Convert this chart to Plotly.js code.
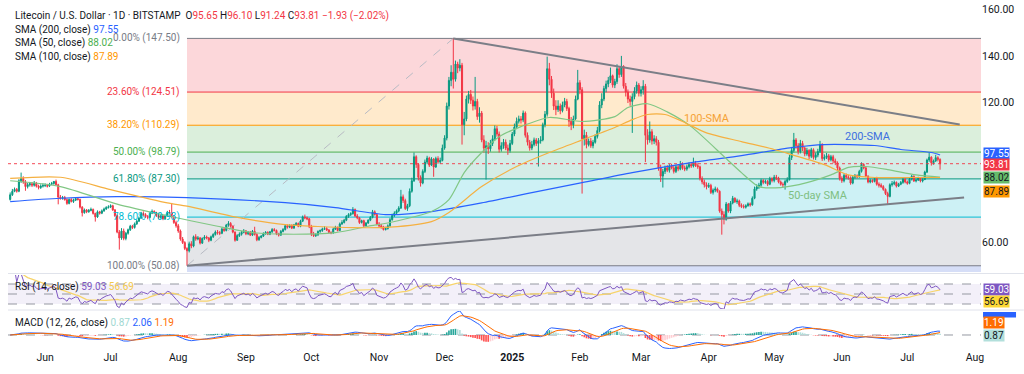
<!DOCTYPE html>
<html><head><meta charset="utf-8">
<script src="https://cdn.plot.ly/plotly-3.0.1.min.js"></script>
<style>html,body{margin:0;padding:0;background:#fff;}#chart{width:1024px;height:374px;}</style>
</head><body><div id="chart"></div>
<script>
// ---------- DATA (daily LTC/USD) ----------
const startDate = [2024, 4, 16]; // 16 May 2024 (UTC, month 0-based)
const firstOpen = 78.5;

const close_2024_05 = [80.5,82.0,82.8,82.0,86.5,87.5,86.0,84.0,84.8,85.2,84.6,85.5,84.2,83.6,84.2,84.5];
const high_2024_05  = [81.5,83.0,83.6,83.4,87.2,90.0,88.4,86.8,85.6,86.0,86.0,86.4,86.0,84.8,85.0,85.4];
const low_2024_05   = [78.0,80.0,81.6,81.4,81.6,85.6,85.2,82.2,83.2,84.0,83.8,84.0,83.6,82.8,83.0,83.6];

const close_2024_06 = [84.5,84.2,85.0,85.3,86.2,84.8,79.5,79.0,79.3,78.4,76.8,78.5,77.6,78.2,78.8,78.5,75.2,72.8,74.0,73.2,73.8,74.2,72.5,71.0,73.2,72.6,73.6,74.4,75.0,75.3];
const high_2024_06  = [85.4,85.2,85.6,86.0,86.4,87.0,85.2,80.4,80.0,80.0,79.0,78.9,79.0,78.8,79.2,79.4,78.8,75.6,74.6,74.4,74.4,75.0,74.6,72.8,73.8,73.6,74.2,75.0,75.6,76.0];
const low_2024_06   = [83.8,83.6,83.8,84.6,84.8,84.4,76.4,78.4,78.4,78.0,76.2,76.4,77.2,77.0,77.8,78.0,74.6,71.2,72.4,72.6,72.8,73.4,72.0,69.0,70.6,72.0,72.2,73.2,74.0,74.6];

const close_2024_07 = [75.8,74.0,71.5,64.5,62.0,65.0,61.8,64.0,65.5,67.0,66.5,68.0,69.2,70.5,72.5,72.0,71.2,70.8,72.6,73.4,72.8,71.6,70.8,71.4,70.2,71.5,73.0,72.8,71.0,68.6,67.2];
const high_2024_07  = [76.4,76.2,74.4,72.0,65.4,66.2,66.0,64.6,66.0,67.6,67.6,68.6,69.8,71.2,73.2,73.4,72.6,71.8,73.2,74.2,73.8,73.2,72.2,72.0,71.8,72.0,73.6,74.0,77.0,71.6,69.4];
const low_2024_07   = [74.8,73.6,71.0,64.0,57.0,61.2,61.0,61.0,63.4,65.0,65.8,66.0,67.6,68.8,70.2,71.4,70.6,70.0,70.4,72.2,72.2,71.0,70.0,70.2,69.6,69.8,71.2,72.2,70.6,68.0,66.4];

const close_2024_08 = [65.0,61.5,60.0,57.5,56.5,59.5,58.5,62.5,61.5,62.0,59.8,61.8,62.4,62.0,61.0,62.5,63.5,64.5,64.2,64.0,65.8,65.2,67.5,68.2,67.0,64.5,61.0,63.0,63.6,64.4,65.0];
const high_2024_08  = [68.0,65.6,62.4,60.6,58.0,60.4,60.6,63.0,63.6,62.8,62.4,62.2,63.2,63.0,62.4,63.0,64.0,65.2,65.4,65.0,66.4,66.6,68.0,69.2,68.8,67.4,64.8,63.6,64.4,65.0,65.8];
const low_2024_08   = [64.2,60.8,59.4,56.8,50.08,55.8,57.6,58.0,60.8,61.0,59.2,59.4,61.2,61.4,60.2,60.6,62.0,63.0,63.4,63.2,63.6,64.6,64.8,66.8,66.4,64.0,60.4,60.8,62.4,63.0,64.0];

const close_2024_09 = [63.8,64.5,63.2,64.8,63.5,61.2,62.2,62.8,63.8,64.4,63.6,64.6,65.6,65.2,63.8,63.2,64.8,65.6,67.2,66.6,67.4,66.2,67.6,68.2,67.0,69.2,71.0,70.6,70.2,66.8];
const high_2024_09  = [65.4,64.9,65.0,65.4,66.8,64.0,62.8,63.2,64.4,64.9,64.8,65.0,66.2,66.2,65.6,64.2,65.4,66.2,67.8,67.8,67.8,67.8,68.0,68.8,68.6,69.8,71.6,72.0,71.2,70.6];
const low_2024_09   = [63.2,63.2,62.8,62.8,63.0,60.6,60.8,61.8,62.4,63.4,63.2,63.2,64.2,64.8,63.2,62.6,63.0,64.4,65.2,66.0,66.2,65.8,66.0,67.2,66.6,66.6,68.8,70.0,69.6,66.2];

const close_2024_10 = [63.6,63.0,63.4,64.8,65.2,65.8,66.0,65.4,64.4,64.2,65.8,66.6,65.2,68.0,68.6,69.6,71.2,72.0,72.4,74.2,71.4,70.6,68.6,69.4,67.2,68.4,69.6,70.8,73.2,72.0,68.0];
const high_2024_10  = [67.6,64.6,64.0,65.2,65.6,66.4,67.0,66.6,65.8,64.8,66.4,67.2,66.8,68.6,69.6,70.2,71.8,72.6,73.0,75.2,74.6,72.2,71.0,69.8,69.8,68.8,70.0,71.4,74.0,73.8,72.4];
const low_2024_10   = [62.8,62.4,62.4,62.8,64.2,64.6,65.4,65.0,64.0,63.6,63.8,65.4,64.8,65.0,67.6,68.2,69.2,70.6,71.4,72.0,71.0,70.0,68.0,68.2,66.6,67.0,68.0,69.2,70.4,71.6,67.4];

const close_2024_11 = [67.2,66.8,65.6,66.0,67.2,69.8,71.6,72.6,73.6,74.8,79.6,78.0,74.6,75.8,82.0,86.5,96.8,93.5,88.0,85.5,90.5,94.5,96.2,93.2,95.8,92.4,96.0,94.6,95.2,100.5];
const high_2024_11  = [68.8,68.0,67.2,66.8,67.8,70.6,72.4,73.4,74.2,75.6,82.6,80.6,78.8,76.6,83.2,87.8,98.6,97.4,94.0,88.8,91.4,95.6,97.2,96.8,96.6,96.2,96.8,97.0,96.4,102.0];
const low_2024_11   = [66.6,66.0,65.2,65.2,65.6,66.8,69.4,71.0,72.0,73.0,74.4,77.0,74.0,73.6,75.2,81.4,86.0,92.0,86.6,84.0,85.0,89.8,93.6,92.4,92.8,88.2,92.0,93.8,93.8,94.8];

const close_2024_12 = [104.8,118.5,129.5,133.0,130.0,136.5,134.8,136.0,110.5,113.0,121.5,123.5,121.0,118.5,120.5,114.0,115.5,104.0,100.5,101.5,100.2,102.5,104.5,108.8,106.5,100.0,101.5,103.0,100.5,99.5,102.5];
const high_2024_12  = [106.0,120.0,131.0,136.0,147.5,138.0,137.5,138.6,137.0,116.0,123.0,125.0,125.4,122.6,131.0,121.6,118.0,116.4,106.0,103.6,103.0,104.0,106.0,110.2,110.0,107.6,103.0,104.4,104.2,102.0,104.0];
const low_2024_12   = [99.8,103.8,117.0,127.0,126.0,129.0,132.6,133.4,102.0,106.0,112.0,119.6,119.4,116.6,117.0,112.6,111.4,103.0,98.6,87.0,98.0,99.0,101.4,103.6,105.4,98.6,99.0,100.2,99.6,97.6,98.6];

const close_2025_01 = [106.5,109.5,112.0,113.0,112.5,115.5,106.0,103.0,100.5,102.0,104.0,102.5,103.5,104.0,110.5,115.0,134.5,130.0,124.0,118.5,117.0,118.5,116.5,119.0,120.5,117.5,112.0,110.5,113.0,121.5,128.5];
const high_2025_01  = [107.4,111.0,113.6,114.4,114.2,116.6,116.2,107.2,104.0,103.6,105.0,104.8,104.8,105.6,111.4,116.4,139.7,137.0,131.4,126.0,121.0,121.0,119.6,120.4,122.0,121.6,118.2,113.8,114.4,123.0,134.0];
const low_2025_01   = [101.8,105.6,108.6,111.0,111.0,111.6,105.0,101.6,99.4,99.6,101.2,101.4,92.6,102.4,103.4,109.4,114.0,127.4,122.0,116.8,114.6,116.0,115.0,115.8,118.0,116.4,109.6,108.2,109.0,112.6,121.0];

const close_2025_02 = [125.5,104.5,106.0,102.0,103.5,101.5,103.0,105.5,108.0,119.0,121.5,126.0,128.0,129.5,131.5,127.5,129.0,134.5,132.0,135.5,127.0,124.5,121.5,120.5,122.5,125.0,127.5,124.0];
const high_2025_02  = [129.6,126.6,108.4,107.4,104.6,104.8,104.0,106.4,109.6,120.6,124.0,127.2,129.4,131.0,135.0,132.0,130.2,136.4,135.6,140.0,136.0,128.4,125.6,123.0,124.0,126.6,129.0,128.4];
const low_2025_02   = [123.6,81.0,101.6,100.4,101.2,100.6,100.4,102.4,104.6,107.2,117.6,120.6,124.4,126.6,128.4,126.4,126.2,128.0,130.6,131.0,126.0,122.6,119.8,118.6,107.0,121.4,123.8,122.6];

const close_2025_03 = [125.5,127.0,106.0,104.0,107.5,103.5,104.5,103.0,92.0,88.5,90.5,92.0,91.0,92.8,92.0,90.5,92.5,91.5,93.5,92.0,91.5,92.5,93.5,92.8,94.0,93.0,92.5,87.5,86.0,84.8,84.0];
const high_2025_03  = [127.0,129.6,128.0,108.6,111.9,108.6,106.0,105.6,104.0,93.4,91.6,93.0,93.2,93.6,93.8,93.0,93.4,93.6,95.0,94.4,93.0,93.4,94.4,94.4,96.4,95.0,94.0,93.0,88.4,87.0,85.8];
const low_2025_03   = [122.6,123.4,94.5,102.0,102.8,102.0,102.2,101.6,90.8,86.0,83.6,89.4,90.2,90.0,91.4,89.6,89.8,90.6,91.0,91.2,90.6,90.8,91.8,92.0,92.2,92.4,91.6,86.6,85.0,83.6,82.8];

const close_2025_04 = [84.5,81.5,82.5,83.0,82.0,73.5,72.0,70.0,76.5,73.5,77.0,79.0,77.5,77.8,76.0,75.5,75.2,75.8,76.6,76.2,79.0,83.0,83.8,84.6,86.6,85.8,86.2,85.0,87.4,86.6];
const high_2025_04  = [85.6,85.2,83.2,84.0,83.6,82.4,74.6,73.4,77.4,77.0,77.8,80.0,79.4,78.8,78.4,76.8,76.4,76.4,77.2,77.2,79.8,84.0,85.0,85.6,87.4,87.2,87.0,86.8,88.2,88.0];
const low_2025_04   = [83.4,80.8,80.6,81.6,81.4,72.8,63.4,67.8,69.4,72.8,72.6,76.4,77.0,76.6,75.2,74.8,74.6,74.6,75.4,75.4,75.8,78.6,82.2,83.0,84.0,85.0,85.2,84.2,84.6,85.8];

const close_2025_05 = [88.0,87.6,86.0,85.0,84.8,86.2,87.0,96.5,99.5,104.0,101.5,99.0,102.5,100.5,98.0,99.5,97.0,99.8,96.5,97.5,99.0,102.0,96.0,96.5,97.2,95.5,96.8,95.0,94.2,92.0,87.5];
const high_2025_05  = [89.0,89.0,88.2,86.6,85.8,87.0,88.0,97.6,101.0,107.0,104.8,102.6,104.0,103.6,101.2,100.6,100.0,100.6,100.4,98.6,100.2,103.6,102.6,97.8,98.4,98.0,97.6,97.6,96.0,94.8,92.6];
const low_2025_05   = [85.8,86.8,85.4,84.4,83.8,82.7,85.6,86.6,95.4,98.6,100.2,97.8,98.2,99.2,97.0,97.2,95.8,96.2,95.6,95.4,96.6,98.4,95.0,95.2,95.8,94.6,94.8,94.0,93.2,91.0,86.6];

const close_2025_06 = [86.5,88.8,88.0,87.8,85.5,88.0,88.6,88.2,90.5,93.5,92.0,88.5,86.0,86.6,86.2,87.4,85.0,84.6,84.0,82.8,81.0,79.8,84.8,85.2,85.8,84.2,85.0,85.8,87.2,86.0];
const high_2025_06  = [88.4,89.6,89.6,89.0,88.4,88.6,89.4,89.2,91.2,94.4,94.0,92.4,88.8,87.4,87.2,88.0,88.2,85.8,85.4,84.6,83.2,81.8,85.4,86.4,86.6,86.2,85.6,86.4,87.8,87.6];
const low_2025_06   = [85.6,85.8,87.4,87.0,84.8,85.0,87.4,87.6,87.8,90.0,91.4,88.0,85.4,85.4,85.6,85.8,84.4,83.6,83.4,82.2,80.4,76.6,79.4,84.0,84.6,83.6,83.8,84.6,85.2,85.4];

const close_2025_07 = [85.4,87.2,88.4,86.4,86.8,87.6,86.4,87.0,90.2,95.4,96.6,94.2,95.0,96.4,95.65,93.81];
const high_2025_07  = [86.6,87.8,89.0,88.8,87.4,88.2,88.0,87.6,90.8,96.0,98.6,97.0,95.6,97.6,97.0,96.10];
const low_2025_07   = [84.8,85.0,86.6,86.0,85.8,86.4,85.8,85.8,86.8,89.8,94.6,93.0,93.4,94.6,94.8,91.24];

// moving averages (date, value knots)
const sma200Dates = ['2024-05-16','2024-06-08','2024-07-04','2024-08-05','2024-09-19','2024-10-12','2024-11-04','2024-11-25','2024-12-18','2025-01-10','2025-02-02','2025-02-25','2025-03-24','2025-04-16','2025-05-09','2025-05-24','2025-06-16','2025-06-28','2025-07-12','2025-07-16'];
const sma200Vals  = [77.6,79.0,79.7,79.3,77.1,75.0,72.0,73.3,77.0,81.4,85.7,90.0,94.3,97.3,100.7,102.0,101.6,99.9,98.6,97.55];
const sma50Dates  = ['2024-05-16','2024-06-08','2024-07-04','2024-07-27','2024-08-19','2024-09-04','2024-09-19','2024-10-12','2024-10-27','2024-11-06','2024-11-25','2024-12-03','2024-12-10','2024-12-18','2024-12-26','2025-01-05','2025-01-18','2025-02-02','2025-02-17','2025-02-23','2025-03-04','2025-03-13','2025-03-24','2025-04-08','2025-04-16','2025-04-24','2025-05-04','2025-05-16','2025-05-27','2025-06-04','2025-06-12','2025-06-22','2025-07-05','2025-07-16'];
const sma50Vals   = [86.5,84.0,76.5,71.5,67.0,64.3,63.6,64.3,67.0,68.6,73.3,78.4,90.0,98.6,105.4,109.7,113.6,111.9,114.0,117.9,119.5,116.0,109.7,96.9,90.0,84.0,83.6,85.7,89.0,92.2,92.6,91.3,89.0,88.02];
const sma100Dates = ['2024-05-16','2024-06-08','2024-07-01','2024-07-27','2024-08-05','2024-08-27','2024-09-19','2024-10-04','2024-10-20','2024-11-06','2024-11-25','2024-12-03','2024-12-18','2025-01-03','2025-01-18','2025-02-02','2025-02-17','2025-02-25','2025-03-04','2025-03-12','2025-03-20','2025-03-31','2025-04-16','2025-05-01','2025-05-09','2025-05-24','2025-06-04','2025-06-16','2025-07-01','2025-07-16'];
const sma100Vals  = [87.5,88.0,82.7,77.0,75.6,71.0,67.7,66.9,66.4,66.6,69.0,72.9,84.0,92.6,98.6,104.0,109.3,112.7,114.9,114.9,111.9,107.0,103.3,99.9,97.7,93.4,89.0,87.9,87.9,87.89];

// Fibonacci retracement (low -> high)
const fibLow = 50.08, fibHigh = 147.50;
const fibLabels = ['0.00% (147.50)','23.60% (124.51)','38.20% (110.29)','50.00% (98.79)','61.80% (87.30)','78.60% (70.93)','100.00% (50.08)'];
const fibValues = [147.50,124.51,110.29,98.79,87.30,70.93,50.08];

// trend lines (date, price)
const upperTrend = {d:['2024-12-05','2025-07-25'], v:[147.5,110.6]};
const lowerTrend = {d:['2024-08-05','2025-07-27'], v:[50.08,79.3]};

const tickDates = ['2024-06-01','2024-07-01','2024-08-01','2024-09-01','2024-10-01','2024-11-01','2024-12-01','2025-01-01','2025-02-01','2025-03-01','2025-04-01','2025-05-01','2025-06-01','2025-07-01','2025-08-01'];
const tickText  = ['Jun','Jul','Aug','Sep','Oct','Nov','Dec','<b>2025</b>','Feb','Mar','Apr','May','Jun','Jul','Aug'];
const priceTicks = [60,120,140,160];

const lastPrice = 93.81;
const priceLineDates = ['2024-05-15','2025-08-03 18:00'];
const legendSMA = {s200:'97.55', s50:'88.02', s100:'87.89'};
const legendRSI = {rsi:'59.03', ma:'56.69'};
const legendMACD = {hist:'0.87', macd:'2.06', signal:'1.19'};

// ---------- BUILD ----------
const closes = [].concat(close_2024_05,close_2024_06,close_2024_07,close_2024_08,close_2024_09,close_2024_10,close_2024_11,close_2024_12,close_2025_01,close_2025_02,close_2025_03,close_2025_04,close_2025_05,close_2025_06,close_2025_07);
const highsRaw = [].concat(high_2024_05,high_2024_06,high_2024_07,high_2024_08,high_2024_09,high_2024_10,high_2024_11,high_2024_12,high_2025_01,high_2025_02,high_2025_03,high_2025_04,high_2025_05,high_2025_06,high_2025_07);
const lowsRaw = [].concat(low_2024_05,low_2024_06,low_2024_07,low_2024_08,low_2024_09,low_2024_10,low_2024_11,low_2024_12,low_2025_01,low_2025_02,low_2025_03,low_2025_04,low_2025_05,low_2025_06,low_2025_07);
const N = closes.length;
const dates = [], opens = [], highs = [], lows = [];
for (let i = 0; i < N; i++) {
  const d = new Date(Date.UTC(startDate[0], startDate[1], startDate[2] + i));
  dates.push(d.toISOString().slice(0,10));
  const o = i === 0 ? firstOpen : closes[i-1];
  opens.push(o);
  highs.push(Math.max(highsRaw[i], o, closes[i]));
  lows.push(Math.min(lowsRaw[i], o, closes[i]));
}

// RSI (14, Wilder) and its 14-period average, computed from the closes
const rsi = [null];
let ag = 0, al = 0;
for (let i = 1; i < N; i++) {
  const ch = closes[i] - closes[i-1];
  const g = Math.max(ch, 0), l = Math.max(-ch, 0);
  const p = Math.min(i, 14);
  ag = (ag * (p - 1) + g) / p; al = (al * (p - 1) + l) / p;
  rsi.push(al === 0 ? 100 : 100 - 100 / (1 + ag / al));
}
const rsiMA = rsi.map((v, i) => {
  const s = rsi.slice(Math.max(1, i - 13), i + 1).filter(x => x !== null);
  return s.length ? s.reduce((a, b) => a + b, 0) / s.length : null;
});
// MACD (12, 26, 9)
function ema(arr, n) { const k = 2 / (n + 1); const out = [arr[0]]; for (let i = 1; i < arr.length; i++) out.push(arr[i] * k + out[i-1] * (1 - k)); return out; }
const e12 = ema(closes, 12), e26 = ema(closes, 26);
const macd = e12.map((v, i) => v - e26[i]);
const signal = ema(macd, 9);
const hist = macd.map((v, i) => v - signal[i]);
const histColors = hist.map((h, i) => {
  const prev = i ? hist[i-1] : 0;
  if (h >= 0) return h >= prev ? '#26a69a' : '#b2dfdb';
  return h < prev ? '#ff5252' : '#ffcdd2';
});
const macdMax = Math.max(...macd, ...signal);

// ---------- TRACES ----------
const FONT = 'Roboto, "Liberation Sans", sans-serif';
const traces = [
  {type:'candlestick', x:dates, open:opens, high:highs, low:lows, close:closes, xaxis:'x', yaxis:'y',
   increasing:{line:{color:'#089981', width:1}, fillcolor:'#089981'},
   decreasing:{line:{color:'#f23645', width:1}, fillcolor:'#f23645'}, whiskerwidth:0, hoverinfo:'skip'},
  {type:'scatter', mode:'lines', x:priceLineDates, y:[lastPrice, lastPrice], line:{color:'#f23645', width:1, dash:'dot'}, opacity:0.9, xaxis:'x', yaxis:'y', hoverinfo:'skip'},
  {type:'scatter', mode:'lines', x:sma200Dates, y:sma200Vals, line:{color:'#2962ff', width:1.2, shape:'spline', smoothing:0.7}, xaxis:'x', yaxis:'y', hoverinfo:'skip'},
  {type:'scatter', mode:'lines', x:sma50Dates, y:sma50Vals, line:{color:'#81c784', width:1.2, shape:'spline', smoothing:0.7}, xaxis:'x', yaxis:'y', hoverinfo:'skip'},
  {type:'scatter', mode:'lines', x:sma100Dates, y:sma100Vals, line:{color:'#f5b041', width:1.2, shape:'spline', smoothing:0.7}, xaxis:'x', yaxis:'y', hoverinfo:'skip'},
  {type:'scatter', mode:'lines', x:dates, y:rsiMA, line:{color:'#f7d46b', width:1.2}, xaxis:'x', yaxis:'y2', hoverinfo:'skip'},
  {type:'scatter', mode:'lines', x:dates, y:rsi, line:{color:'#7e57c2', width:1}, xaxis:'x', yaxis:'y2', hoverinfo:'skip'},
  {type:'bar', x:dates, y:hist, marker:{color:histColors, line:{width:0}}, xaxis:'x', yaxis:'y3', hoverinfo:'skip'},
  {type:'scatter', mode:'lines', x:dates, y:macd, line:{color:'#2962ff', width:1}, xaxis:'x', yaxis:'y3', hoverinfo:'skip'},
  {type:'scatter', mode:'lines', x:dates, y:signal, line:{color:'#ff6d00', width:1}, xaxis:'x', yaxis:'y3', hoverinfo:'skip'}
];

// ---------- SHAPES ----------
const xEnd = '2025-08-03 18:00';
const fibStart = '2024-08-05';
const zoneFill = ['#fcd7da','#ffeacc','#dbefdc','#d4ece6','#cdf1f5','#e4e5e8'];
const lineCol = ['#787b86','#f23645','#ff9800','#4caf50','#089981','#00bcd4','#787b86'];
const shapes = [];
for (let i = 0; i < 6; i++) {
  shapes.push({type:'rect', layer:'below', xref:'x', yref:'y', x0:fibStart, x1:xEnd, y0:fibValues[i+1], y1:fibValues[i], fillcolor:zoneFill[i], line:{width:0}});
}
shapes.push({type:'rect', layer:'below', xref:'x', yref:'y', x0:fibStart, x1:xEnd, y0:47.4, y1:fibLow, fillcolor:'#d6def7', line:{width:0}});
for (let i = 0; i < 7; i++) {
  shapes.push({type:'line', layer:'below', xref:'x', yref:'y', x0:fibStart, x1:xEnd, y0:fibValues[i], y1:fibValues[i], line:{color:lineCol[i], width:1}});
}
shapes.push({type:'line', layer:'below', xref:'x', yref:'y', x0:fibStart, x1:'2024-12-05', y0:fibLow, y1:fibHigh, line:{color:'#b8bbc4', width:1, dash:'dash'}});
shapes.push({type:'line', layer:'above', xref:'x', yref:'y', x0:upperTrend.d[0], x1:upperTrend.d[1], y0:upperTrend.v[0], y1:upperTrend.v[1], line:{color:'#7b7e87', width:2}});
shapes.push({type:'line', layer:'above', xref:'x', yref:'y', x0:lowerTrend.d[0], x1:lowerTrend.d[1], y0:lowerTrend.v[0], y1:lowerTrend.v[1], line:{color:'#7b7e87', width:2}});
// RSI pane
shapes.push({type:'rect', layer:'below', xref:'paper', yref:'y2', x0:0, x1:1, y0:30, y1:70, fillcolor:'rgba(126,87,194,0.09)', line:{width:0}});
[70,50,30].forEach(v => shapes.push({type:'line', layer:'below', xref:'paper', yref:'y2', x0:0, x1:1, y0:v, y1:v, line:{color:'#9598a1', width:1, dash:'dash'}}));
// MACD zero line
shapes.push({type:'line', layer:'below', xref:'paper', yref:'y3', x0:0, x1:1, y0:0, y1:0, line:{color:'#9598a1', width:1, dash:'dash'}});
// pane separators
[0.2163, 0.1117].forEach(p => shapes.push({type:'line', layer:'above', xref:'paper', yref:'paper', x0:0, x1:1.044, y0:p, y1:p, line:{color:'#e0e3eb', width:1}}));
// MACD-line price tag (mostly hidden behind the signal tag, as in the reference)
shapes.push({type:'rect', layer:'above', xref:'paper', yref:'paper', x0:1.0021, x1:1.036, y0:0.0905, y1:0.1060, fillcolor:'#2962ff', line:{width:0}});

// ---------- ANNOTATIONS ----------
const ann = [];
const RED = '#f23645';
function sp(c, t) { return '<span style="color:' + c + '">' + t + '</span>'; }
function leg(y, text) { ann.push({xref:'paper', yref:'paper', x:0, y:y, xanchor:'left', yanchor:'middle', xshift:5, text:text, showarrow:false, font:{family:FONT, size:10, color:'#131722'}}); }
leg(0.9542, 'Litecoin / U.S. Dollar · 1D · BITSTAMP  O' + sp(RED,'95.65') + ' H' + sp(RED,'96.10') + ' L' + sp(RED,'91.24') + ' C' + sp(RED,'93.81') + ' ' + sp(RED,'−1.93 (−2.02%)'));
leg(0.9140, 'SMA (200, close) ' + sp('#2962ff', legendSMA.s200));
leg(0.8754, 'SMA (50, close) ' + sp('#4caf50', legendSMA.s50));
leg(0.8367, 'SMA (100, close) ' + sp('#ff9800', legendSMA.s100));
leg(0.1777, 'RSI (14, close) ' + sp('#7e57c2', legendRSI.rsi) + ' ' + sp('#f2c94c', legendRSI.ma));
leg(0.0745, 'MACD (12, 26, close) ' + sp('#9fd8d2', legendMACD.hist) + ' ' + sp('#2962ff', legendMACD.macd) + ' ' + sp('#ff6d00', legendMACD.signal));

for (let i = 0; i < 7; i++) {
  ann.push({xref:'x', yref:'y', x:fibStart, y:fibValues[i], xanchor:'right', yanchor:'middle', xshift:-5, text:fibLabels[i], showarrow:false, font:{family:FONT, size:10, color:lineCol[i]}});
}
ann.push({xref:'x', yref:'y', x:'2025-03-31', y:113.3, text:'100-SMA', showarrow:false, font:{family:FONT, size:11, color:'#f5a235'}});
ann.push({xref:'x', yref:'y', x:'2025-06-13', y:105.4, text:'200-SMA', showarrow:false, font:{family:FONT, size:11, color:'#3d6fe0'}});
ann.push({xref:'x', yref:'y', x:'2025-05-21', y:80.1, text:'50-day SMA', showarrow:false, font:{family:FONT, size:11, color:'#7fbf82'}});

function tag(yref, y, text, bg, fg, yshift) {
  ann.push({xref:'paper', yref:yref, x:1, y:y, xanchor:'left', yanchor:'middle', xshift:2, yshift:yshift || 0, text:text, showarrow:false,
    bgcolor:bg, borderpad:0, font:{family:FONT, size:10, color:fg}});
}
tag('y', 97.55, '97.55', '#2962ff', '#ffffff', 1);
tag('y', 93.81, '93.81', '#f23645', '#ffffff', -1);
tag('y', 88.02, '88.02', '#66bb6a', '#131722', 0);
tag('y', 87.89, '87.89', '#ff9800', '#131722', -14);
tag('paper', 0.1719, legendRSI.rsi, '#7e57c2', '#ffffff');
tag('paper', 0.1347, legendRSI.ma, '#fdd835', '#131722');
tag('paper', 0.0770, legendMACD.signal, '#ff6d00', '#ffffff');
tag('paper', 0.0401, legendMACD.hist, '#b2dfdb', '#131722');

const layout = {
  width:1024, height:374, margin:{l:8, r:43, t:0, b:25},
  paper_bgcolor:'#ffffff', plot_bgcolor:'#ffffff', showlegend:false, bargap:0.25,
  font:{family:FONT, size:10, color:'#131722'},
  xaxis:{type:'date', range:['2024-05-15', xEnd], anchor:'y3', tickvals:tickDates, ticktext:tickText,
         showgrid:false, zeroline:false, ticks:'', showline:false, rangeslider:{visible:false}, tickfont:{size:10.5, color:'#131722'}},
  yaxis:{domain:[0.2206, 0.9943], range:[47.4, 163.1], side:'right', tickvals:priceTicks, tickformat:'.2f',
         showgrid:false, zeroline:false, ticks:'', showline:false, tickfont:{size:10.5, color:'#131722'}},
  yaxis2:{domain:[0.1146, 0.2120], range:[20, 88], side:'right', showticklabels:false, showgrid:false, zeroline:false},
  yaxis3:{domain:[0, 0.1089], range:[-macdMax * 14 / 24, macdMax], side:'right', showticklabels:false, showgrid:false, zeroline:false},
  shapes:shapes, annotations:ann
};
Plotly.newPlot('chart', traces, layout, {displayModeBar:false, staticPlot:true});
</script>
</body></html>
